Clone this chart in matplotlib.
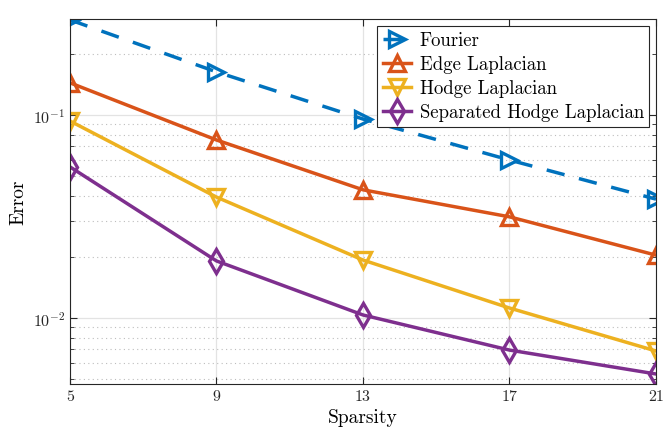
import matplotlib
matplotlib.use("Agg")
import matplotlib.pyplot as plt
from matplotlib.ticker import FixedLocator, LogLocator, NullFormatter

sparsity = [5, 9, 13, 17, 21]
fourier = [0.294, 0.163, 0.0955, 0.060, 0.0385]
edge = [0.144, 0.0753, 0.0428, 0.0315, 0.0204]
hodge = [0.0934, 0.0394, 0.0193, 0.0112, 0.00688]
separated = [0.0555, 0.0191, 0.01035, 0.00695, 0.0053]

plt.rcParams['font.family'] = ['cmr10', 'DejaVu Serif']
plt.rcParams['mathtext.fontset'] = 'cm'
plt.rcParams['axes.formatter.use_mathtext'] = True

fig = plt.figure(figsize=(6.68, 4.31), dpi=100)
ax = fig.add_axes([0.1048, 0.1067, 0.8772, 0.8469])

lw = 2.5
ms = 11.5
mew = 2.4
ax.plot(sparsity, fourier, '--', color='#0072BD', marker='>', ms=ms, mew=mew,
        mfc='none', lw=lw, label='Fourier', dashes=(5.3, 4.3))
ax.plot(sparsity, edge, '-', color='#D95319', marker='^', ms=ms, mew=mew,
        mfc='none', lw=lw, label='Edge Laplacian')
ax.plot(sparsity, hodge, '-', color='#EDB120', marker='v', ms=ms, mew=mew,
        mfc='none', lw=lw, label='Hodge Laplacian')
ax.plot(sparsity, separated, '-', color='#7E2F8E', marker='d', ms=12.5, mew=mew,
        mfc='none', lw=lw, label='Separated Hodge Laplacian')

ax.set_yscale('log')
ax.set_xlim(5, 21)
ax.set_ylim(0.00473, 0.297)
ax.set_xticks(sparsity)
ax.set_xticklabels([str(s) for s in sparsity])
ax.yaxis.set_major_locator(FixedLocator([0.01, 0.1]))
ax.set_yticklabels([r'$10^{-2}$', r'$10^{-1}$'])
ax.yaxis.set_minor_locator(LogLocator(base=10, subs=range(2, 10)))
ax.yaxis.set_minor_formatter(NullFormatter())

ax.grid(True, which='major', color='#e3e3e3', lw=0.9, ls='-')
ax.grid(True, which='minor', axis='y', color='#bdbdbd', lw=0.8, ls=(0, (1, 3)))
ax.set_axisbelow(True)

for s in ax.spines.values():
    s.set_color('#262626')
    s.set_linewidth(0.8)
ax.tick_params(which='both', direction='in', top=True, right=True,
               colors='#262626', labelsize=11.5)
ax.tick_params(which='major', length=5)
ax.tick_params(which='minor', length=3)

ax.set_xlabel('Sparsity', fontsize=14)
ax.set_ylabel('Error', fontsize=14)

leg = ax.legend(loc='upper right', fontsize=13.5, fancybox=False, framealpha=1,
                edgecolor='#262626', handlelength=1.5, borderpad=0.3,
                labelspacing=0.32, handletextpad=0.45, borderaxespad=0.35)
leg.get_frame().set_linewidth(0.8)

fig.savefig('out.png', dpi=100)
